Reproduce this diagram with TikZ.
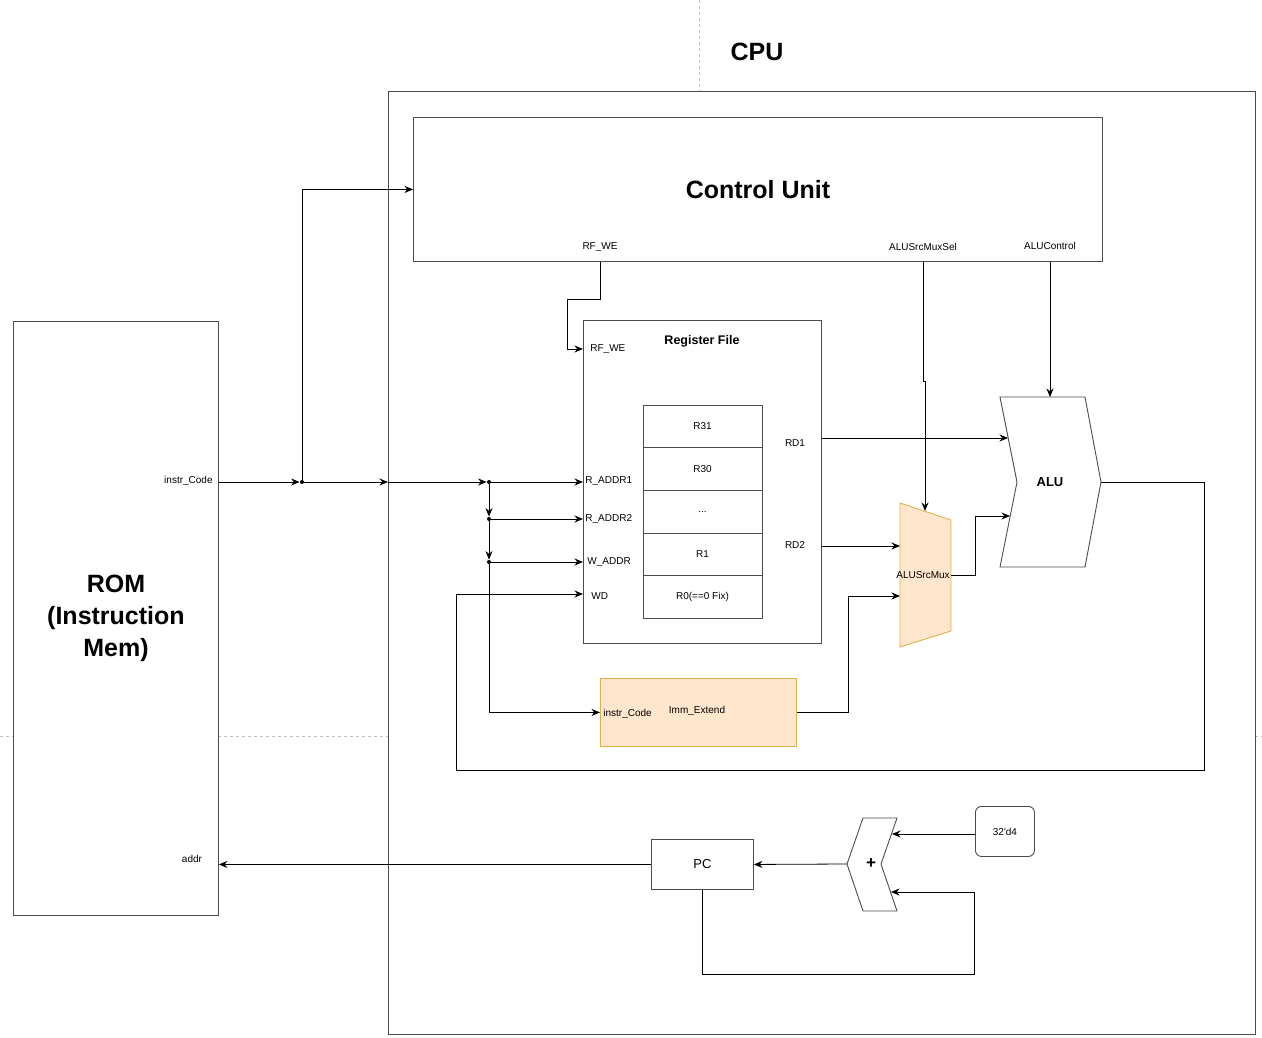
\documentclass[tikz,border=0pt]{standalone}
\usepackage{fontspec}
\setmainfont{Liberation Sans}
\usetikzlibrary{positioning,arrows.meta}
\definecolor{peach}{HTML}{FFE6CC}
\definecolor{peachline}{HTML}{E3B04B}
\tikzset{
 box/.style={draw=black!70,line width=0.9pt,fill=white,anchor=north west,inner sep=0pt},
 reg/.style={draw=black!70,line width=0.8pt,minimum width=119,minimum height=42.6,outer sep=0pt,inner sep=0pt,font=\fontsize{10}{12}\selectfont},
 port/.style={font=\fontsize{10}{12}\selectfont,inner sep=1pt},
 big/.style={font=\fontsize{25}{32}\selectfont\bfseries},
 jdot/.style={circle,fill=black,inner sep=0pt,minimum size=4pt},
 pagebrk/.style={draw=black!25,dashed,line width=0.6pt},
}
\begin{document}
\begin{tikzpicture}[x=1pt,y=-1pt,>={Stealth[length=8.5pt,width=7pt]},line width=0.8pt]
 \useasboundingbox (0,0) rectangle (1262,1038);
 % page breaks
 \draw[pagebrk] (699,0)--(699,91); \draw[pagebrk] (0,736)--(13,736);
 \draw[pagebrk] (218,736)--(388,736); \draw[pagebrk] (1255,736)--(1262,736);
 \node[big] (cpulbl) at (757,52) {CPU};
 \node[box,minimum width=867,minimum height=943] (cpu) at (388,91) {};
 \node[box,big,minimum width=689,minimum height=144] (cu) at (413,117) {Control Unit};
 \node[box,big,align=center,minimum width=205,minimum height=594] (rom) at (13,321) {ROM\\(Instruction\\Mem)};
 % register file
 \node[box,minimum width=238,minimum height=323] (rf) at (583,320) {};
 \node[font=\fontsize{12.5}{15}\selectfont\bfseries] (rftitle) at (702,341) {Register File};
 \node[reg] (r31) at (702.5,426.5) {R31};
 \node[reg,below=0pt of r31] (r30) {R30};
 \node[reg,below=0pt of r30] (rdots) {...};
 \node[reg,below=0pt of rdots] (r1) {R1};
 \node[reg,below=0pt of r1] (r0) {R0(==0 Fix)};
 % ALU, mux, imm, pc, adder
 \draw[draw=black!70,line width=0.9pt] (1000,397)--(1085,397)--(1101,482)--(1085,567)--(1000,567)--(1017,482)--cycle;
 \node[font=\fontsize{13}{15}\selectfont\bfseries] (alu) at (1050,482) {ALU};
 \draw[fill=peach,draw=peachline,line width=0.9pt] (900,503)--(951,520)--(951,631)--(900,647)--cycle;
 \node[port] (mux) at (923,575) {ALUSrcMux};
 \node[box,fill=peach,draw=peachline,minimum width=196,minimum height=68] (imm) at (600,678) {};
 \node[box,font=\fontsize{13}{15}\selectfont,minimum width=102,minimum height=50] (pc) at (651,839) {PC};
 \draw[draw=black!70,line width=0.9pt] (847,864)--(863,818)--(897,818)--(881,864)--(897,911)--(863,911)--cycle;
 \node[font=\fontsize{17}{18}\selectfont\bfseries] (add) at (871,864) {+};
 \node[box,rounded corners=6pt,port,minimum width=59,minimum height=50] (four) at (975,806) {32\textquotesingle d4};
 % port labels
 \node[port] (cuwe) at (600,247) {RF\_WE};
 \node[port] (lsel) at (923,247) {ALUSrcMuxSel};
 \node[port] (lctl) at (1050,246) {ALUControl};
 \node[port,anchor=west] (rfwe) at (589,349) {RF\_WE};
 \node[port,anchor=west] (ra1) at (584,481) {R\_ADDR1};
 \node[port,anchor=west] (ra2) at (584,519) {R\_ADDR2};
 \node[port,anchor=west] (wa) at (586,562) {W\_ADDR};
 \node[port,anchor=west] (wd) at (590,596) {WD};
 \node[port] (rd1) at (795,443) {RD1};
 \node[port] (rd2) at (795,545) {RD2};
 \node[port,anchor=east] (romi) at (214,481) {instr\_Code};
 \node[port] (roma) at (192,859) {addr};
 \node[port,anchor=west] (immi) at (602,714) {instr\_Code};
 \node[port] (immlbl) at (697,711) {Imm\_Extend};
 % ports on shapes
 \coordinate (aluA) at (1008,438); \coordinate (aluB) at (1010,516);
 \coordinate (aluCtl) at (1050,397); \coordinate (aluOut) at (1101,482);
 \coordinate (muxS) at (925,511); \coordinate (muxA) at (900,546);
 \coordinate (muxB) at (900,596); \coordinate (muxOut) at (951,575);
 \coordinate (addA) at (892,834); \coordinate (addB) at (891,892);
 \coordinate (addOut) at (847,864);
 % junctions
 \node[jdot] (j1) at (302,482) {}; \node[jdot] (j2) at (489,482) {};
 \node[jdot] (j3) at (489,519) {}; \node[jdot] (j4) at (489,562) {};
 % instruction bus
 \draw[->] (rom.east|-j1) -- (j1);
 \draw[->] (j1) -- (cpu.west|-j1);
 \draw[->] (cpu.west|-j1) -- (j2);
 \draw[->] (j2) -- (rf.west|-j2);
 \draw[->] (j1) |- (cu.west);
 \draw[->] (j2) -- (j3); \draw[->] (j3) -- (rf.west|-j3);
 \draw[->] (j3) -- (j4); \draw[->] (j4) -- (rf.west|-j4);
 \draw[->] (j4) |- (imm.west);
 % control
 \draw[->] (cuwe|-cu.south) -- ++(0,37) -| (567,349) -- (rf.west|-0,349);
 \draw[->] (lsel|-cu.south) -- (923,381) -- (925,381) -- (muxS);
 \draw[->] (lctl|-cu.south) -- (aluCtl);
 % datapath
 \draw[->] (rf.east|-aluA) -- (aluA);
 \draw[->] (rf.east|-muxA) -- (muxA);
 \draw[->] (muxOut) -- (975,575) |- (aluB);
 \draw[->] (imm.east) -- (imm.east-|848,0) |- (muxB);
 \draw[->] (aluOut) -- (1204,482) -- (1204,770) -| (456,594) -- (rf.west|-0,594);
 % pc
 \draw[->] (pc.west) -- (rom.east|-pc.west);
 \draw[->] (addOut) -- (pc.east);
 \draw[->] (four.west|-addA) -- (addA);
 \draw[->] (pc.south) |- (974,974) |- (addB);
\end{tikzpicture}
\end{document}
